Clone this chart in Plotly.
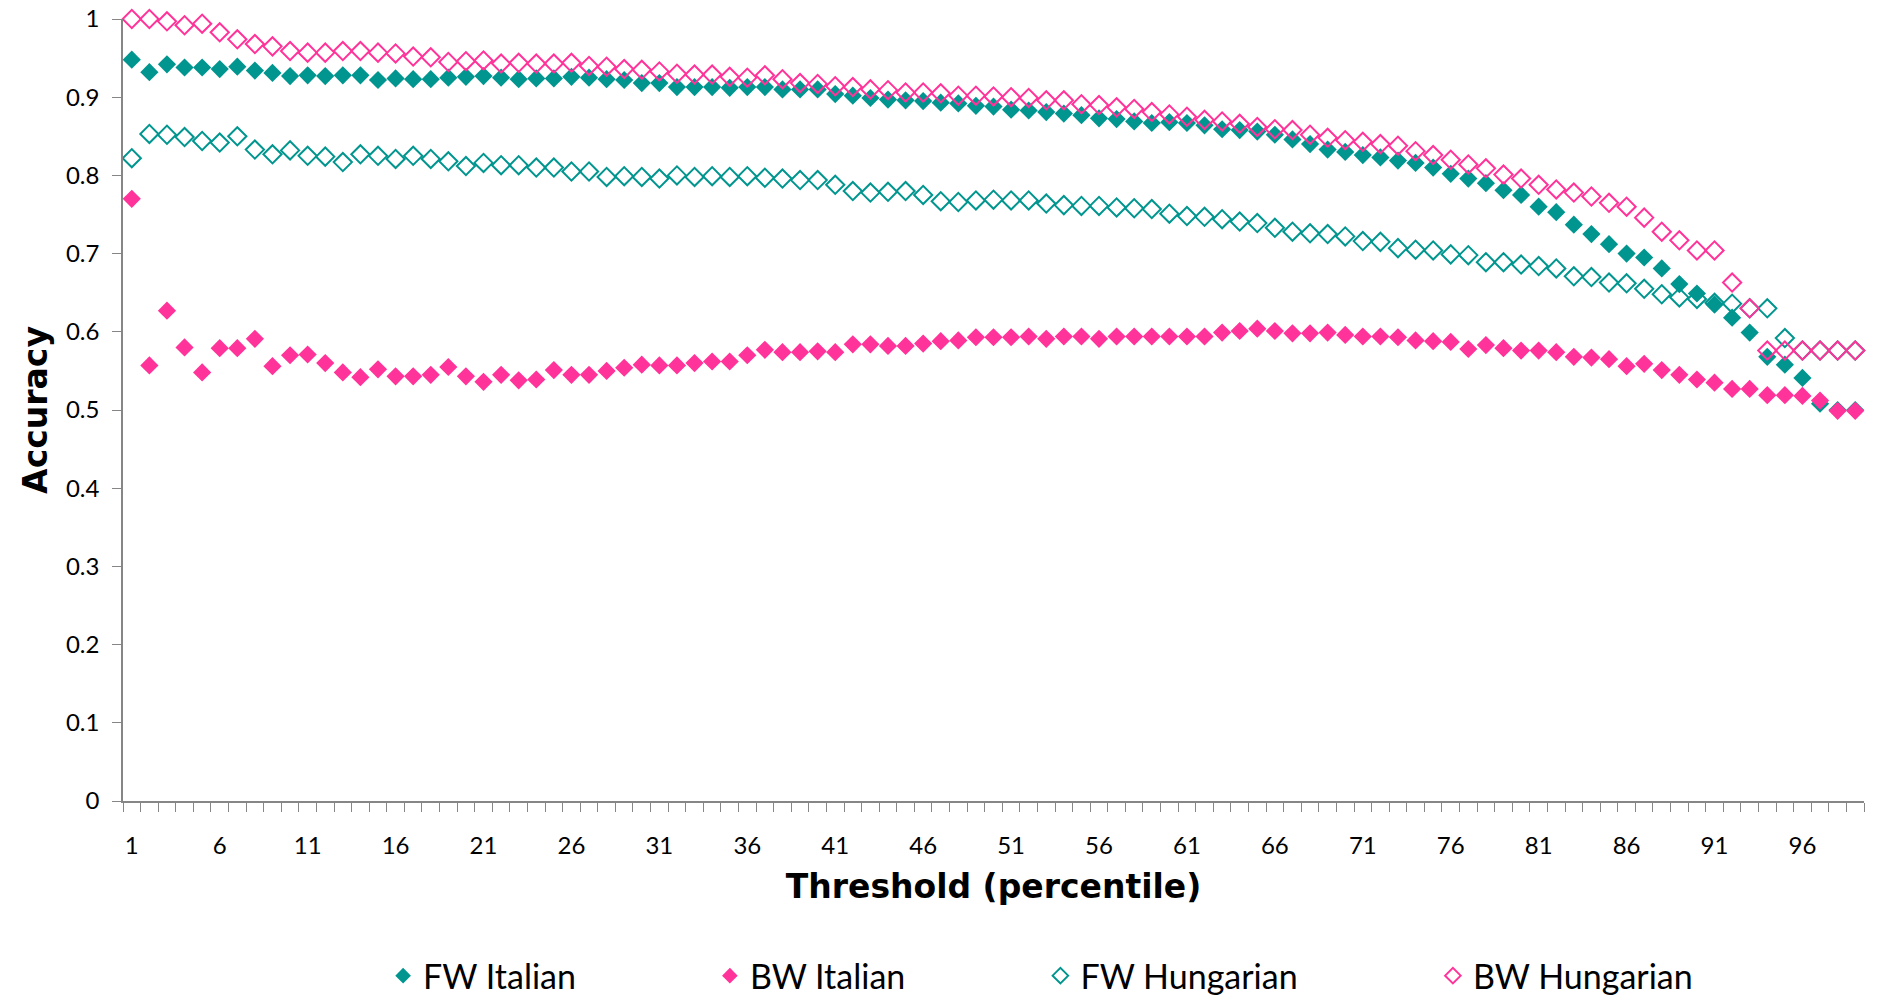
import plotly.graph_objects as go

thresholds = list(range(1, 100))
tick_labels = [str(v) for v in range(1, 100, 5)]

fw_italian = [
    0.948, 0.932, 0.942, 0.938, 0.938, 0.936, 0.939, 0.934, 0.931, 0.927,
    0.928, 0.927, 0.928, 0.928, 0.922, 0.924, 0.923, 0.923, 0.925, 0.926,
    0.927, 0.925, 0.923, 0.924, 0.924, 0.926, 0.925, 0.923, 0.922, 0.918,
    0.918, 0.913, 0.913, 0.913, 0.912, 0.913, 0.913, 0.910, 0.910, 0.910,
    0.904, 0.902, 0.899, 0.897, 0.896, 0.895, 0.893, 0.892, 0.889, 0.888,
    0.884, 0.883, 0.881, 0.879, 0.877, 0.873, 0.872, 0.869, 0.867, 0.868,
    0.867, 0.864, 0.859, 0.858, 0.856, 0.852, 0.846, 0.840, 0.833, 0.830,
    0.826, 0.823, 0.819, 0.816, 0.810, 0.802, 0.796, 0.790, 0.781, 0.775,
    0.760, 0.753, 0.737, 0.725, 0.712, 0.700, 0.695, 0.681, 0.661, 0.649,
    0.635, 0.618, 0.599, 0.568, 0.558, 0.541, 0.508, 0.500, 0.500,
]

bw_italian = [
    0.770, 0.557, 0.627, 0.580, 0.548, 0.579, 0.579, 0.591, 0.556, 0.570,
    0.571, 0.560, 0.548, 0.542, 0.552, 0.543, 0.543, 0.545, 0.555, 0.543,
    0.536, 0.545, 0.538, 0.539, 0.551, 0.545, 0.545, 0.550, 0.554, 0.558,
    0.557, 0.557, 0.560, 0.562, 0.562, 0.570, 0.577, 0.574, 0.574, 0.575,
    0.574, 0.584, 0.584, 0.582, 0.582, 0.585, 0.588, 0.589, 0.593, 0.593,
    0.593, 0.594, 0.591, 0.594, 0.594, 0.591, 0.594, 0.594, 0.594, 0.594,
    0.594, 0.594, 0.599, 0.601, 0.604, 0.601, 0.598, 0.598, 0.599, 0.596,
    0.594, 0.594, 0.593, 0.589, 0.588, 0.587, 0.578, 0.583, 0.579, 0.576,
    0.576, 0.574, 0.568, 0.567, 0.565, 0.556, 0.559, 0.551, 0.545, 0.539,
    0.535, 0.527, 0.527, 0.519, 0.519, 0.518, 0.512, 0.499, 0.499,
]

fw_hungarian = [
    0.822, 0.853, 0.852, 0.849, 0.844, 0.842, 0.850, 0.833, 0.827, 0.832,
    0.825, 0.824, 0.817, 0.827, 0.825, 0.821, 0.825, 0.821, 0.818, 0.812,
    0.816, 0.813, 0.813, 0.810, 0.810, 0.805, 0.805, 0.798, 0.799, 0.798,
    0.796, 0.800, 0.798, 0.799, 0.798, 0.799, 0.797, 0.796, 0.794, 0.794,
    0.788, 0.780, 0.778, 0.779, 0.780, 0.775, 0.767, 0.766, 0.768, 0.769,
    0.768, 0.768, 0.764, 0.762, 0.761, 0.761, 0.759, 0.758, 0.757, 0.751,
    0.748, 0.747, 0.744, 0.741, 0.739, 0.733, 0.728, 0.726, 0.725, 0.722,
    0.716, 0.715, 0.707, 0.705, 0.704, 0.699, 0.698, 0.689, 0.689, 0.686,
    0.684, 0.681, 0.671, 0.670, 0.663, 0.662, 0.655, 0.648, 0.644, 0.642,
    0.637, 0.636, 0.630, 0.630, 0.592, 0.576, 0.576, 0.576, 0.576,
]

bw_hungarian = [
    1.000, 1.000, 0.997, 0.992, 0.994, 0.983, 0.974, 0.968, 0.965, 0.959,
    0.957, 0.957, 0.959, 0.959, 0.957, 0.956, 0.952, 0.951, 0.945, 0.946,
    0.947, 0.943, 0.944, 0.943, 0.943, 0.944, 0.940, 0.939, 0.936, 0.935,
    0.933, 0.930, 0.929, 0.929, 0.926, 0.925, 0.928, 0.923, 0.918, 0.917,
    0.914, 0.913, 0.910, 0.909, 0.906, 0.906, 0.905, 0.902, 0.902, 0.901,
    0.900, 0.899, 0.896, 0.896, 0.891, 0.890, 0.887, 0.885, 0.881, 0.878,
    0.875, 0.871, 0.869, 0.866, 0.862, 0.859, 0.858, 0.852, 0.848, 0.845,
    0.843, 0.840, 0.838, 0.831, 0.826, 0.820, 0.814, 0.809, 0.801, 0.796,
    0.788, 0.782, 0.778, 0.773, 0.765, 0.760, 0.746, 0.728, 0.717, 0.704,
    0.704, 0.663, 0.630, 0.576, 0.576, 0.576, 0.576, 0.576, 0.576,
]

TEAL = "#00968F"
PINK = "#FF3399"
FONT = "Lato"
TITLE_FONT = "DejaVu Sans"

series = [
    ("FW Italian", fw_italian, "diamond", TEAL, "legend", 0.204),
    ("BW Italian", bw_italian, "diamond", PINK, "legend2", 0.378),
    ("FW Hungarian", fw_hungarian, "diamond-open", TEAL, "legend3", 0.554),
    ("BW Hungarian", bw_hungarian, "diamond-open", PINK, "legend4", 0.763),
]

fig = go.Figure()
legends = {}
for name, vals, sym, col, leg, lx in series:
    fig.add_trace(go.Scatter(
        x=thresholds, y=vals, mode="markers", name=name, legend=leg,
        cliponaxis=False,
        marker=dict(symbol=sym, size=14, color=col,
                    line=dict(color=col, width=2 if "open" in sym else 0)),
    ))
    legends[leg] = dict(
        x=lx, y=0.022, xref="container", yref="container",
        xanchor="left", yanchor="middle",
        orientation="h", bgcolor="rgba(0,0,0,0)",
        font=dict(family=FONT, size=34, color="black"),
        itemsizing="constant",
    )

fig.update_layout(
    width=1878, height=998,
    margin=dict(l=123, r=14, t=19, b=197, autoexpand=False),
    paper_bgcolor="white", plot_bgcolor="white",
    showlegend=True,
    font=dict(family=FONT, color="black"),
    **legends,
)

fig.update_xaxes(
    range=[0.5, 99.5], tickmode="array", automargin=False,
    tickvals=list(range(1, 100, 5)), ticktext=tick_labels,
    ticks="", showgrid=False, zeroline=False,
    showline=True, linecolor="#868686", linewidth=1.5,
    tickfont=dict(family=FONT, size=24, color="black"),
    ticklabelstandoff=22,
    minor=dict(tick0=0.5, dtick=1, ticks="outside", ticklen=9,
               tickcolor="#868686", tickwidth=1.2, showgrid=False),
    title=dict(text="Threshold (percentile)", standoff=17,
               font=dict(family=TITLE_FONT, size=33, color="black", weight="bold")),
)

fig.update_yaxes(
    range=[0, 1], tickmode="array", automargin=False,
    tickvals=[i / 10 for i in range(11)],
    ticktext=["0", "0.1", "0.2", "0.3", "0.4", "0.5", "0.6", "0.7", "0.8", "0.9", "1"],
    ticks="outside", ticklen=9, tickcolor="#868686", tickwidth=1.2,
    showgrid=False, zeroline=False,
    showline=True, linecolor="#868686", linewidth=1.5,
    tickfont=dict(family=FONT, size=24, color="black"),
    ticklabelstandoff=8,
    title=dict(text="Accuracy", standoff=8,
               font=dict(family=TITLE_FONT, size=33, color="black", weight="bold")),
)

fig.write_html("out.html")
